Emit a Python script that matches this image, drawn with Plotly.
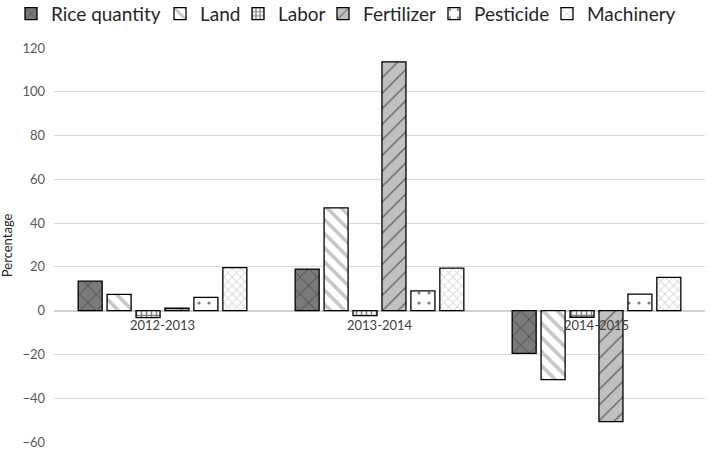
import plotly.graph_objects as go

categories = ["2012-2013", "2013-2014", "2014-2015"]
series_names = ["Rice quantity", "Land", "Labor", "Fertilizer", "Pesticide", "Machinery"]
rice = [13.5, 19.0, -19.5]
land = [7.4, 47.0, -31.5]
labor = [-3.2, -2.3, -3.0]
fertilizer = [1.1, 113.7, -50.7]
pesticide = [6.1, 9.0, 7.6]
machinery = [19.7, 19.4, 15.2]
y_ticks = [-60, -40, -20, 0, 20, 40, 60, 80, 100, 120]
y_title = "Percentage"

values = [rice, land, labor, fertilizer, pesticide, machinery]
styles = [
    dict(color="#7a7a7a", pattern=dict(shape="x", fgcolor="#000000", bgcolor="#7a7a7a", size=12, solidity=0.12)),
    dict(color="#ffffff", pattern=dict(shape="\\", fgcolor="#8c8c8c", bgcolor="#ffffff", size=10, solidity=0.35)),
    dict(color="#ffffff", pattern=dict(shape="+", fgcolor="#000000", bgcolor="#ffffff", size=5, solidity=0.5)),
    dict(color="#c0c0c0", pattern=dict(shape="/", fgcolor="#000000", bgcolor="#c0c0c0", size=11, solidity=0.12)),
    dict(color="#ffffff", pattern=dict(shape=".", fgcolor="#000000", bgcolor="#ffffff", size=10, solidity=0.08)),
    dict(color="#ffffff", pattern=dict(shape="x", fgcolor="#b5b5b5", bgcolor="#ffffff", size=6, solidity=0.3)),
]
# left edge (px) of each legend entry's symbol in the 710px-wide page
legend_left_px = [25, 174, 252, 337, 448, 561]

fig = go.Figure()
legend_layout = {}
for i, (name, vals, st, lx) in enumerate(zip(series_names, values, styles, legend_left_px)):
    key = "legend" if i == 0 else f"legend{i + 1}"
    fig.add_trace(go.Bar(
        x=categories, y=vals, name=name, legend=key,
        marker=dict(color=st["color"], pattern=st["pattern"],
                    line=dict(color="#000000", width=1.3)),
    ))
    legend_layout[key] = dict(
        orientation="h", xref="container", yref="paper",
        x=(lx - 14) / 710, xanchor="left", y=1.135, yanchor="top",
        font=dict(family="Lato", size=19, color="#262626"),
        itemwidth=30, bgcolor="rgba(0,0,0,0)", borderwidth=0,
    )

for c in categories:
    fig.add_annotation(x=c, y=0, xref="x", yref="y", text=c, showarrow=False,
                       yanchor="top", yshift=-4,
                       font=dict(family="Lato", size=13, color="#404040"))

# y-axis title as a rotated annotation to the left of the plot area
fig.add_annotation(x=-0.072, y=0.5, xref="paper", yref="paper", text=y_title,
                   textangle=-90, showarrow=False, xanchor="center", yanchor="middle",
                   font=dict(family="Lato", size=13, color="#262626"))

fig.update_layout(
    width=710, height=453,
    margin=dict(l=54, r=5, t=48, b=11, autoexpand=False),
    paper_bgcolor="white", plot_bgcolor="white",
    barmode="group", bargap=0.2, bargroupgap=0.17,
    font=dict(family="Lato", color="#404040"),
    showlegend=True,
    **legend_layout,
)
fig.update_xaxes(showticklabels=False, showgrid=False, zeroline=False, showline=False, ticks="")
fig.update_yaxes(range=[-60, 120], tickvals=y_ticks, showgrid=True, gridcolor="#d9d9d9",
                 gridwidth=1, zeroline=True, zerolinecolor="#d0d0d0", zerolinewidth=1.5,
                 tickfont=dict(family="Lato", size=13, color="#595959"), ticks="", ticklen=0,
                 ticklabelstandoff=8)

fig.write_html("out.html")
